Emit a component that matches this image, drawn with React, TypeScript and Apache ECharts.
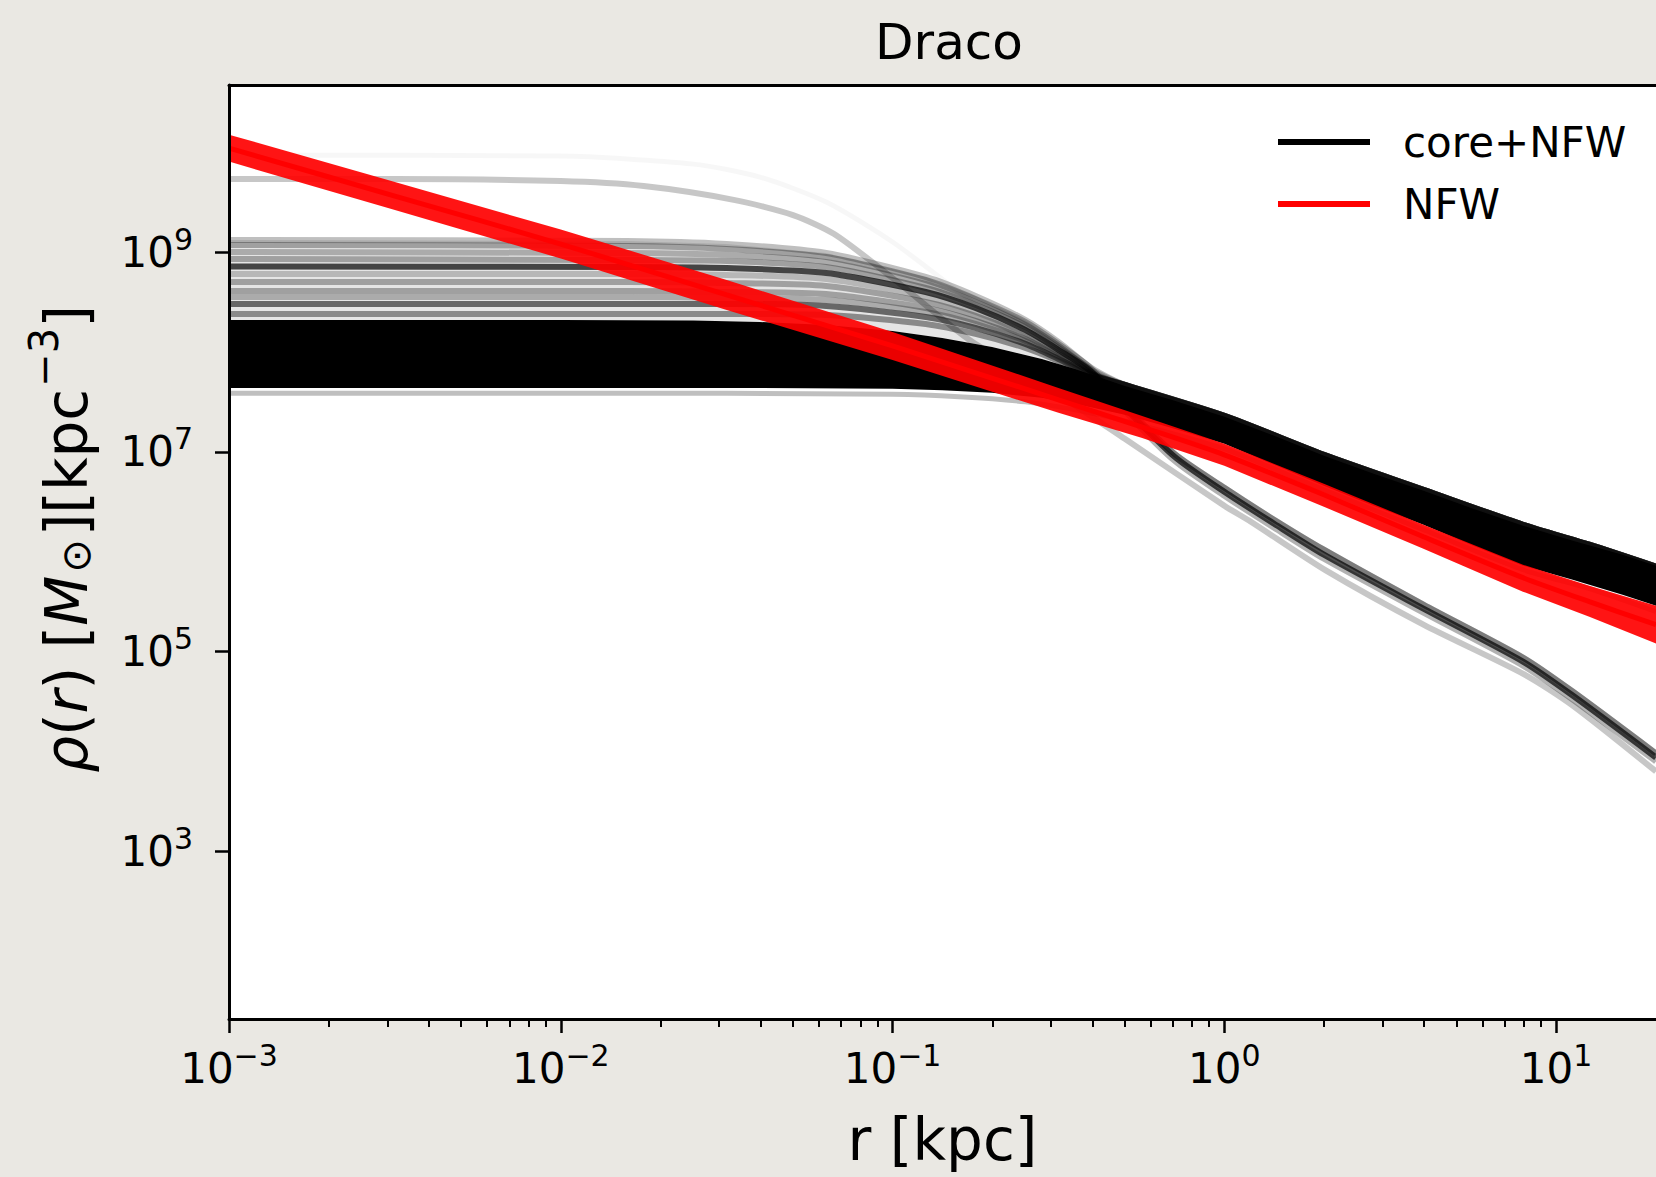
import React, { useEffect, useRef } from 'react';
import * as echarts from 'echarts';

// All values are log10: x = log10(r / kpc), y = log10(rho / (M_sun kpc^-3))
const X_MIN = -3;
const X_MAX = 1.301; // r = 20 kpc
const Y_MIN = 1.322;
const Y_MAX = 10.672;

const xMajorExponents = [-3, -2, -1, 0, 1];
const yMajorExponents = [3, 5, 7, 9];
const xMinorMultipliers = [2, 3, 4, 5, 6, 7, 8, 9];

// dense core+NFW posterior band (upper / lower envelope)
const coreBandTop = [
  [-3, 8.32], [-2, 8.32], [-1.6, 8.315], [-1.4, 8.3], [-1.2, 8.27], [-1.0, 8.21], [-0.85, 8.14],
  [-0.7, 8.05], [-0.55, 7.93], [-0.45, 7.83], [-0.3, 7.66], [-0.15, 7.51], [0, 7.35], [0.15, 7.16],
  [0.3, 6.96], [0.45, 6.78], [0.6, 6.61], [0.75, 6.43], [0.9, 6.26], [1.05, 6.11], [1.2, 5.97], [1.301, 5.86],
];
const coreBandBottom = [
  [-3, 7.64], [-1.5, 7.64], [-1.0, 7.63], [-0.85, 7.615], [-0.7, 7.59], [-0.55, 7.54], [-0.45, 7.48],
  [-0.3, 7.37], [-0.15, 7.23], [0, 7.08], [0.15, 6.87], [0.3, 6.66], [0.45, 6.46], [0.6, 6.27],
  [0.75, 6.06], [0.9, 5.86], [1.05, 5.72], [1.2, 5.57], [1.301, 5.46],
];

// individual high-core samples: inner parts (x = -3, -1.8, -1.5, -1.2, -0.9, -0.75, -0.6, -0.5, -0.4)
const headX = [-3, -1.8, -1.5, -1.2, -0.9, -0.75, -0.6, -0.5, -0.4];
const headG1 = [9.12, 9.11, 9.08, 8.99, 8.75, 8.56, 8.32, 8.1, 7.84];
const headG2 = [9.07, 9.06, 9.03, 8.95, 8.72, 8.53, 8.3, 8.08, 7.83];
const headG3 = [9.0, 8.99, 8.97, 8.9, 8.68, 8.5, 8.27, 8.06, 7.82];
const headG4 = [8.93, 8.92, 8.91, 8.85, 8.64, 8.47, 8.25, 8.04, 7.81];
const headDark = [8.855, 8.85, 8.84, 8.79, 8.6, 8.44, 8.22, 8.02, 7.8];
const headG5 = [8.78, 8.78, 8.77, 8.73, 8.55, 8.4, 8.19, 8.0, 7.79];
const headG6 = [8.7, 8.7, 8.69, 8.66, 8.5, 8.36, 8.16, 7.98, 7.78];
const headG7 = [8.61, 8.61, 8.6, 8.58, 8.44, 8.31, 8.13, 7.96, 7.78];
const headG8 = [8.55, 8.55, 8.54, 8.52, 8.4, 8.28, 8.11, 7.95, 7.77];
const headG9 = [8.48, 8.48, 8.48, 8.46, 8.35, 8.24, 8.08, 7.93, 7.77];
const headG10 = [8.38, 8.38, 8.38, 8.37, 8.28, 8.18, 8.04, 7.91, 7.76];

// outer parts
const tailMain = [[-0.3, 7.67], [0, 7.36], [0.3, 6.97], [0.6, 6.62], [0.9, 6.27], [1.1, 6.07], [1.301, 5.85]];
const tailSteep1 = [[-0.3, 7.46], [-0.15, 6.98], [0, 6.64], [0.15, 6.32], [0.3, 6.02], [0.6, 5.47], [0.9, 4.94], [1.05, 4.6], [1.301, 3.98]];
const tailSteep2 = [[-0.3, 7.44], [-0.15, 6.95], [0, 6.6], [0.15, 6.28], [0.3, 5.97], [0.6, 5.43], [0.9, 4.9], [1.05, 4.56], [1.301, 3.94]];
const tailSteep3 = [[-0.3, 7.41], [-0.15, 6.91], [0, 6.56], [0.15, 6.24], [0.3, 5.93], [0.6, 5.39], [0.9, 4.86], [1.05, 4.52], [1.301, 3.9]];

// single very high-core sample (light grey) and a very faint one
const lightLine = [
  [-3, 9.73], [-2.5, 9.73], [-2, 9.71], [-1.75, 9.66], [-1.475, 9.52], [-1.3, 9.37], [-1.176, 9.18],
  [-1.0, 8.74], [-0.777, 8.14], [-0.6, 7.78], [-0.48, 7.53], [-0.3, 7.13], [0, 6.46], [0.08, 6.3],
  [0.307, 5.81], [0.6, 5.27], [0.905, 4.77], [1.05, 4.46], [1.301, 3.8],
];
const faintLine = [[-3, 9.97], [-2, 9.96], [-1.6, 9.88], [-1.4, 9.75], [-1.2, 9.5], [-1.0, 9.1], [-0.8, 8.6], [-0.6, 8.1], [-0.45, 7.8]];
const lowerEdgeLine = [
  [-3, 7.585], [-1.5, 7.585], [-1.0, 7.575], [-0.8, 7.55], [-0.6, 7.5], [-0.45, 7.42], [-0.3, 7.31],
  [0, 7.03], [0.3, 6.62], [0.6, 6.22], [0.9, 5.82], [1.1, 5.63], [1.301, 5.4],
];

// NFW posterior band
const nfwTop = [
  [-3, 10.175], [-2.5, 9.7], [-2, 9.225], [-1.5, 8.72], [-1, 8.2], [-0.5, 7.64], [-0.25, 7.36],
  [0, 7.08], [0.3, 6.68], [0.6, 6.27], [0.9, 5.87], [1.1, 5.66], [1.301, 5.46],
];
const nfwBottom = [
  [-3, 9.905], [-2.5, 9.42], [-2, 8.935], [-1.5, 8.42], [-1, 7.92], [-0.5, 7.39], [-0.25, 7.14],
  [0, 6.86], [0.3, 6.45], [0.6, 6.03], [0.9, 5.6], [1.1, 5.35], [1.301, 5.08],
];
const nfwCenter = [
  [-3, 10.04], [-2.5, 9.56], [-2, 9.08], [-1.5, 8.57], [-1, 8.06], [-0.5, 7.52], [-0.25, 7.25],
  [0, 6.97], [0.3, 6.57], [0.6, 6.15], [0.9, 5.74], [1.1, 5.5], [1.301, 5.27],
];

const FONT = 'DejaVu Sans';

const expText = (v: number) => {
  const e = Math.round(v);
  return e < 0 ? '\u2212' + String(-e) : String(e);
};

const tickRich = {
  b: { fontFamily: FONT, fontSize: 42, lineHeight: 50, color: '#000' },
  s: { fontFamily: FONT, fontSize: 30, lineHeight: 24, padding: [0, 0, 26, 0], color: '#000' },
};

const xMinorTicks: number[] = [];
for (let d = -3; d <= 1; d++) {
  for (const k of xMinorMultipliers) {
    const v = d + Math.log10(k);
    if (v < X_MAX - 1e-6) xMinorTicks.push(v);
  }
}

const withX = (ys: number[]) => ys.map((y, i) => [headX[i], y]);

const polySeries = (name: string, top: number[][], bottom: number[][], fill: string, z: number) => ({
  type: 'custom',
  name,
  silent: true,
  z,
  data: [[top[0][0], top[0][1]]],
  renderItem: (_p: any, api: any) => ({
    type: 'polygon',
    shape: { points: top.concat([...bottom].reverse()).map((p) => api.coord(p)) },
    style: { fill },
  }),
});

const lineSeries = (data: number[][], color: string, width: number, z: number) => ({
  type: 'line',
  data,
  symbol: 'none',
  showSymbol: false,
  smooth: 0.25,
  silent: true,
  z,
  lineStyle: { color, width },
});

const grayLines: [number[][], number][] = [
  [withX(headG1).concat(tailMain), 0.25],
  [withX(headG2).concat(tailSteep1), 0.3],
  [withX(headG3).concat(tailMain), 0.25],
  [withX(headG4).concat(tailSteep3), 0.3],
  [withX(headDark).concat(tailSteep2), 0.7],
  [withX(headG5).concat(tailMain), 0.2],
  [withX(headG6).concat(tailSteep1), 0.3],
  [withX(headG7).concat(tailMain), 0.3],
  [withX(headG8).concat(tailMain), 0.25],
  [withX(headG9).concat(tailMain), 0.55],
  [withX(headG10).concat(tailMain), 0.4],
];

export default function App() {
  const ref = useRef<HTMLDivElement>(null);
  useEffect(() => {
    const chart = echarts.init(ref.current!, null, { renderer: 'svg' });
    const option: any = {
      animation: false,
      backgroundColor: '#eae8e3',
      title: {
        text: 'Draco',
        left: 949,
        top: 17,
        textAlign: 'center',
        padding: 0,
        textStyle: { fontFamily: FONT, fontSize: 50, fontWeight: 'normal', color: '#000', lineHeight: 50 },
      },
      legend: {
        orient: 'vertical',
        left: 1278,
        top: 121,
        padding: 0,
        itemGap: 20,
        itemWidth: 92,
        itemHeight: 6,
        selectedMode: false,
        data: [
          { name: 'core+NFW', icon: 'rect', itemStyle: { color: '#000' } },
          { name: 'NFW', icon: 'rect', itemStyle: { color: '#ff0000' } },
        ],
        textStyle: { fontFamily: FONT, fontSize: 42, lineHeight: 42, color: '#000', padding: [0, 0, 0, 28] },
      },
      grid: {
        left: 229,
        top: 85,
        right: -13,
        bottom: 157,
        show: true,
        backgroundColor: '#ffffff',
        borderWidth: 0,
      },
      xAxis: [
        {
          type: 'value',
          min: X_MIN,
          max: X_MAX,
          position: 'bottom',
          z: 10,
          name: 'r [kpc]',
          nameLocation: 'middle',
          nameGap: 89,
          nameTextStyle: { fontFamily: FONT, fontSize: 58, lineHeight: 64, color: '#000' },
          axisLine: { show: true, onZero: false, lineStyle: { color: '#000', width: 3 } },
          axisTick: { show: true, length: 14, customValues: xMajorExponents, lineStyle: { color: '#000', width: 2.5 } },
          axisLabel: {
            show: true,
            margin: 24,
            customValues: xMajorExponents,
            formatter: (v: number) => `{b|10}{s|${expText(v)}}`,
            rich: tickRich,
          },
          splitLine: { show: false },
        },
        {
          type: 'value',
          min: X_MIN,
          max: X_MAX,
          position: 'bottom',
          z: 10,
          axisLine: { show: false, onZero: false },
          axisTick: { show: true, length: 8, customValues: xMinorTicks, lineStyle: { color: '#000', width: 2 } },
          axisLabel: { show: false },
          splitLine: { show: false },
        },
        {
          type: 'value',
          min: X_MIN,
          max: X_MAX,
          position: 'top',
          z: 10,
          axisLine: { show: true, onZero: false, lineStyle: { color: '#000', width: 3 } },
          axisTick: { show: false },
          axisLabel: { show: false },
          splitLine: { show: false },
        },
      ],
      yAxis: [
        {
          type: 'value',
          min: Y_MIN,
          max: Y_MAX,
          position: 'left',
          z: 10,
          name: '{i|ρ}{n|(}{i|r}{n|) [}{i|M}{sub|⊙}{n|][kpc}{sup|−3}{n|]}',
          nameLocation: 'middle',
          nameGap: 100,
          nameRotate: 90,
          nameTextStyle: {
            color: '#000',
            padding: [0, 0, 0, 26],
            rich: {
              n: { fontFamily: FONT, fontSize: 58, lineHeight: 64, color: '#000' },
              i: { fontFamily: FONT, fontSize: 58, lineHeight: 64, fontStyle: 'italic', color: '#000' },
              sub: { fontFamily: FONT, fontSize: 40, lineHeight: 46, padding: [18, 3, 0, 3], color: '#000' },
              sup: { fontFamily: FONT, fontSize: 40, lineHeight: 40, padding: [0, 0, 46, 2], color: '#000' },
            },
          },
          axisLine: { show: true, onZero: false, lineStyle: { color: '#000', width: 3 } },
          axisTick: { show: true, length: 14, customValues: yMajorExponents, lineStyle: { color: '#000', width: 2.5 } },
          axisLabel: {
            show: true,
            margin: 36,
            customValues: yMajorExponents,
            formatter: (v: number) => `{b|10}{s|${expText(v)}}`,
            rich: tickRich,
          },
          splitLine: { show: false },
        },
      ],
      series: [
        polySeries('core+NFW', withX(headG1).concat(tailMain), coreBandTop, 'rgba(0,0,0,0.1)', 2),
        polySeries('core+NFW', coreBandTop, coreBandBottom, '#000000', 2),
        lineSeries(faintLine, 'rgba(0,0,0,0.03)', 5, 3),
        lineSeries(lightLine, 'rgba(0,0,0,0.22)', 6, 3),
        lineSeries(lowerEdgeLine, 'rgba(0,0,0,0.25)', 5, 3),
        ...grayLines.map(([d, a]) => lineSeries(d, `rgba(0,0,0,${a})`, 6, 3)),
        polySeries('NFW', nfwTop, nfwBottom, 'rgba(255,0,0,0.92)', 4),
        lineSeries(nfwCenter, '#ff0000', 5, 5),
      ],
    };
    chart.setOption(option);
    return () => chart.dispose();
  }, []);
  return (
    <div
      ref={ref}
      style={{ position: 'absolute', left: 0, top: 0, width: 1656, height: 1177, background: '#eae8e3' }}
    />
  );
}
